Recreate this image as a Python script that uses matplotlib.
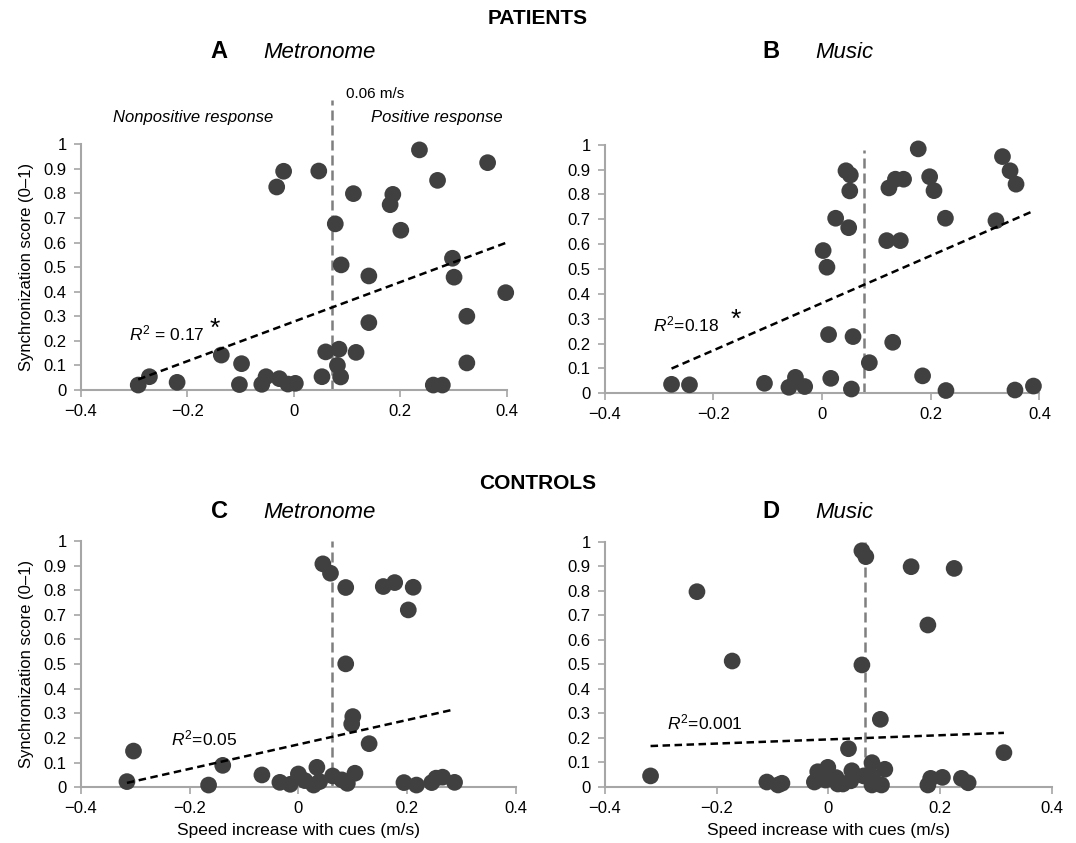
import matplotlib
matplotlib.use("Agg")
import matplotlib.pyplot as plt
import numpy as np

plt.rcParams['font.family'] = ['Liberation Sans', 'DejaVu Sans']
plt.rcParams['mathtext.fontset'] = 'custom'
plt.rcParams['mathtext.rm'] = 'Liberation Sans'
plt.rcParams['mathtext.it'] = 'Liberation Sans:italic'

# Patients, metronome (A)
a_x = [-0.292, -0.271, -0.219, -0.136, -0.098, -0.102, -0.060, -0.052, -0.027, -0.011,
       0.003, -0.032, -0.019, 0.047, 0.053, 0.060, 0.085, 0.082, 0.088, 0.078,
       0.089, 0.112, 0.117, 0.141, 0.141, 0.181, 0.186, 0.201, 0.236, 0.270,
       0.364, 0.298, 0.301, 0.398, 0.325, 0.325, 0.262, 0.279]
a_y = [0.020, 0.054, 0.031, 0.142, 0.107, 0.022, 0.023, 0.054, 0.046, 0.024,
       0.027, 0.826, 0.890, 0.891, 0.054, 0.155, 0.166, 0.100, 0.053, 0.676,
       0.509, 0.799, 0.153, 0.464, 0.274, 0.754, 0.796, 0.650, 0.977, 0.853,
       0.925, 0.536, 0.459, 0.396, 0.300, 0.110, 0.020, 0.020]

# Patients, music (B)
b_x = [-0.277, -0.244, -0.106, -0.061, -0.049, -0.032, 0.002, 0.009, 0.016, 0.012,
       0.025, 0.044, 0.052, 0.051, 0.049, 0.057, 0.054, 0.087, 0.123, 0.135,
       0.150, 0.119, 0.144, 0.130, 0.177, 0.198, 0.206, 0.227, 0.185, 0.228,
       0.332, 0.346, 0.357, 0.320, 0.355, 0.389]
b_y = [0.036, 0.034, 0.040, 0.024, 0.064, 0.027, 0.574, 0.507, 0.060, 0.236,
       0.704, 0.895, 0.878, 0.814, 0.666, 0.228, 0.017, 0.123, 0.826, 0.861,
       0.861, 0.614, 0.614, 0.205, 0.983, 0.871, 0.815, 0.704, 0.070, 0.011,
       0.952, 0.895, 0.841, 0.694, 0.013, 0.029]

# Controls, metronome (C)
c_x = [-0.315, -0.303, -0.165, -0.139, -0.067, -0.034, -0.015, 0.000, 0.012, 0.028,
       0.034, 0.039, 0.045, 0.059, 0.063, 0.080, 0.087, 0.087, 0.090, 0.100,
       0.098, 0.104, 0.130, 0.156, 0.177, 0.211, 0.202, 0.194, 0.217, 0.245,
       0.253, 0.265, 0.287]
c_y = [0.023, 0.147, 0.009, 0.089, 0.050, 0.020, 0.012, 0.054, 0.027, 0.009,
       0.081, 0.023, 0.907, 0.869, 0.046, 0.030, 0.811, 0.501, 0.016, 0.287,
       0.257, 0.057, 0.177, 0.815, 0.831, 0.812, 0.720, 0.019, 0.009, 0.019,
       0.037, 0.041, 0.020]

# Controls, music (D)
d_x = [-0.318, -0.235, -0.172, -0.110, -0.090, -0.083, -0.025, -0.019, -0.001, -0.005,
       0.014, 0.017, 0.026, 0.040, 0.042, 0.036, 0.060, 0.067, 0.060, 0.063,
       0.078, 0.079, 0.078, 0.095, 0.101, 0.093, 0.148, 0.225, 0.178, 0.178,
       0.183, 0.204, 0.238, 0.250, 0.314]
d_y = [0.044, 0.796, 0.513, 0.019, 0.007, 0.014, 0.019, 0.061, 0.079, 0.027,
       0.037, 0.011, 0.011, 0.024, 0.065, 0.155, 0.963, 0.939, 0.497, 0.044,
       0.098, 0.041, 0.007, 0.007, 0.071, 0.275, 0.898, 0.891, 0.660, 0.007,
       0.034, 0.038, 0.034, 0.016, 0.139]

# trend lines (slope, intercept) and R2 labels
fit_slope = [0.805, 0.952, 0.496, 0.085]
fit_icpt = [0.278, 0.363, 0.174, 0.193]
r2_text = [r"$R^2$ = 0.17", r"$R^2$=0.18", r"$R^2$=0.05", r"$R^2$=0.001"]
r2_star = [True, True, False, False]

# cut-off line
cut_x = [0.072, 0.078, 0.062, 0.066]
cut_top = [1.18, 0.98, 1.0, 1.0]

letters = ["A", "B", "C", "D"]
cues = ["Metronome", "Music", "Metronome", "Music"]

xs = [a_x, b_x, c_x, d_x]
ys = [a_y, b_y, c_y, d_y]

# axes boxes in figure fraction (left, bottom, width, height)
boxes = [[0.075, 0.5374, 0.396, 0.2915],
         [0.562, 0.5335, 0.404, 0.2949],
         [0.075, 0.0661, 0.4046, 0.2922],
         [0.562, 0.0668, 0.4157, 0.2906]]
r2_pos = [(-0.310, 0.228), (-0.311, 0.275), (-0.234, 0.199), (-0.288, 0.263)]
star_pos = [(-0.148, 0.250), (-0.158, 0.295)]

fig = plt.figure(figsize=(10.76, 8.43), dpi=100)

grey = '#a6a6a6'
dot = '#404040'

def fmt(v):
    if abs(v) < 1e-9:
        return "0"
    if abs(v - 1) < 1e-9:
        return "1"
    s = "%.1f" % v
    return s.replace("-", "\u2212")

for i in range(4):
    ax = fig.add_axes(boxes[i])
    x = np.array(xs[i])
    y = np.array(ys[i])

    # cut-off line
    ax.plot([cut_x[i], cut_x[i]], [0, cut_top[i]], color='#7f7f7f',
            lw=1.8, dashes=(4, 2), clip_on=False, zorder=2)

    ax.scatter(x, y, s=145, color=dot, edgecolors='none', zorder=3, clip_on=False)

    xx = np.array([x.min(), x.max()])
    ax.plot(xx, fit_slope[i] * xx + fit_icpt[i], color='black', lw=1.8,
            dashes=(3, 1.8), zorder=4, clip_on=False)

    ax.text(r2_pos[i][0], r2_pos[i][1], r2_text[i], fontsize=12.5, va='center', ha='left')
    if r2_star[i]:
        ax.text(star_pos[i][0], star_pos[i][1], "*", fontsize=19, va='center', ha='center')

    ax.set_xlim(-0.4, 0.4)
    ax.set_ylim(0, 1)
    xt = [-0.4, -0.2, 0, 0.2, 0.4]
    yt = list(np.round(np.arange(0, 1.01, 0.1), 1))
    ax.set_xticks(xt)
    ax.set_xticklabels([fmt(v) for v in xt])
    ax.set_yticks(yt)
    ax.set_yticklabels([fmt(v) for v in yt])
    for side in ['top', 'right']:
        ax.spines[side].set_visible(False)
    for side in ['left', 'bottom']:
        ax.spines[side].set_color(grey)
        ax.spines[side].set_linewidth(1.5)
    ax.tick_params(direction='out', length=5, width=1.2, color=grey,
                   labelsize=12, pad=5)

    if i in (0, 2):
        ax.set_ylabel("Synchronization score (0\u20131)", fontsize=12, labelpad=7)
    if i in (2, 3):
        ax.set_xlabel("Speed increase with cues (m/s)", fontsize=12.5, labelpad=5)

    if i == 0:
        ax.text(0.099, 1.205, "0.06 m/s", fontsize=11, ha='left', va='center')
        ax.text(-0.188, 1.108, "Nonpositive response", fontsize=12, style='italic',
                ha='center', va='center')
        ax.text(0.268, 1.108, "Positive response", fontsize=12, style='italic',
                ha='center', va='center')

# headings
fig.text(538 / 1076, 1 - 18 / 843, "PATIENTS", fontsize=15, fontweight='bold',
         ha='center', va='center')
fig.text(538 / 1076, 1 - 483 / 843, "CONTROLS", fontsize=15, fontweight='bold',
         ha='center', va='center')
title_y = [52, 52, 512, 512]
letter_x = [219, 771, 219, 771]
cue_x = [263, 815, 263, 815]
for i in range(4):
    fig.text(letter_x[i] / 1076, 1 - title_y[i] / 843, letters[i], fontsize=17,
             fontweight='bold', ha='center', va='center')
    fig.text(cue_x[i] / 1076, 1 - title_y[i] / 843, cues[i], fontsize=16,
             style='italic', ha='left', va='center')

fig.savefig("out.png", dpi=100)
